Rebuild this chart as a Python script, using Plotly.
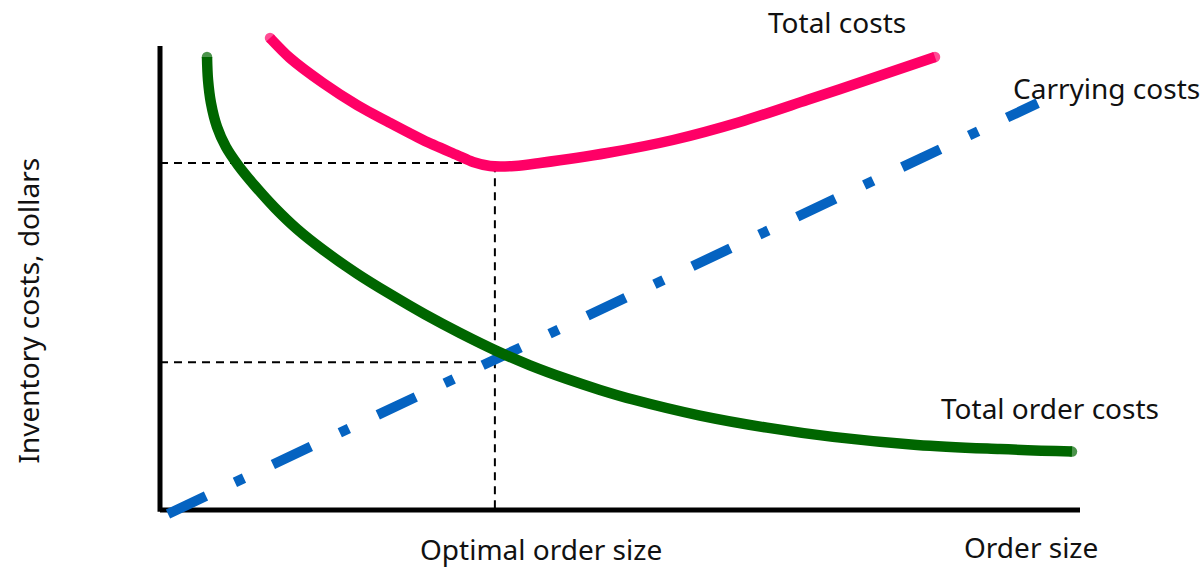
import plotly.graph_objects as go

# Order size (x) and cost (y) in chart units (0-100 axis lengths)
order_x = [5.11, 5.22, 5.54, 6.20, 7.17, 8.48, 10.33, 12.50, 14.89, 17.72, 21.41, 25.00, 28.80,
           32.61, 36.63, 40.22, 44.24, 47.83, 51.41, 58.70, 65.98, 73.15, 82.28, 91.30, 99.13]
order_y = [97.42, 92.47, 87.53, 82.37, 78.06, 74.19, 69.68, 64.95, 60.43, 55.96, 50.84, 46.43, 42.06,
           38.06, 34.17, 31.12, 28.17, 25.83, 23.76, 20.30, 17.70, 15.72, 14.00, 13.10, 12.56]

total_x = [11.96, 14.13, 17.72, 21.41, 25.00, 28.59, 32.28, 34.02, 35.87, 38.59, 41.30, 48.59,
           55.76, 63.04, 70.33, 77.50, 84.24]
total_y = [101.51, 97.20, 91.83, 87.10, 83.23, 79.57, 76.34, 74.84, 73.98, 73.98, 74.62, 76.77,
           79.57, 83.44, 88.17, 92.90, 97.42]

carry_x = [0.87, 95.4]
carry_y = [-0.86, 87.5]

optimal_q = 36.4
optimal_total = 74.6
optimal_each = 31.8

axis_x_end = 100
axis_y_end = 99.8

labels = {
    "total": "Total costs",
    "carry": "Carrying costs",
    "order": "Total order costs",
    "xname": "Order size",
    "opt": "Optimal order size",
    "yname": "Inventory costs, dollars",
}

FONT = "Noto Sans"
FS = 28

fig = go.Figure()

# axes
fig.add_trace(go.Scatter(x=[0, 0], y=[-0.4, axis_y_end], mode="lines",
                         line=dict(color="black", width=5), hoverinfo="skip"))
fig.add_trace(go.Scatter(x=[0, axis_x_end], y=[0, 0], mode="lines",
                         line=dict(color="black", width=5), hoverinfo="skip"))

# dashed guides
dash = "8px,6px"
fig.add_trace(go.Scatter(x=[0, optimal_q, optimal_q], y=[optimal_total, optimal_total, 0], mode="lines",
                         line=dict(color="black", width=2, dash=dash), hoverinfo="skip"))
fig.add_trace(go.Scatter(x=[0, optimal_q], y=[optimal_each, optimal_each], mode="lines",
                         line=dict(color="black", width=2, dash=dash), hoverinfo="skip"))

# carrying costs
fig.add_trace(go.Scatter(x=carry_x, y=carry_y, mode="lines",
                         line=dict(color="#0563C1", width=10, dash="42px,32px,10px,32px")))

# total order costs
n = len(order_x)
fig.add_trace(go.Scatter(x=order_x, y=order_y, mode="lines+markers",
                         line=dict(color="#006600", width=10.5, shape="spline", smoothing=1.0),
                         marker=dict(color="#006600", size=[10.5] + [0] * (n - 2) + [10.5], line=dict(width=0))))

# total costs
m = len(total_x)
fig.add_trace(go.Scatter(x=total_x, y=total_y, mode="lines+markers",
                         line=dict(color="#FF0066", width=10.5, shape="spline", smoothing=0.8),
                         marker=dict(color="#FF0066", size=[10.5] + [0] * (m - 2) + [10.5], line=dict(width=0))))

ann = [
    (labels["total"], 73.6, 104.9, 0, "middle"),
    (labels["carry"], 102.9, 90.8, 0, "middle"),
    (labels["order"], 96.7, 21.9, 0, "middle"),
    (labels["xname"], 94.7, -12.4, 0, "bottom"),
    (labels["opt"], 41.4, -8.4, 0, "middle"),
    (labels["yname"], -14.4, 42.8, -90, "middle"),
]
for t, x, y, a, ya in ann:
    fig.add_annotation(x=x, y=y, text=t, showarrow=False, textangle=a,
                       font=dict(family=FONT, size=FS, color="#111111"),
                       xanchor="center", yanchor=ya)

fig.update_layout(
    width=1203, height=568,
    margin=dict(l=0, r=0, t=0, b=0),
    paper_bgcolor="white", plot_bgcolor="white",
    showlegend=False,
    xaxis=dict(range=[-17.391, 113.370], visible=False, fixedrange=True),
    yaxis=dict(range=[-12.473, 109.677], visible=False, fixedrange=True),
)

fig.write_html("out.html")
